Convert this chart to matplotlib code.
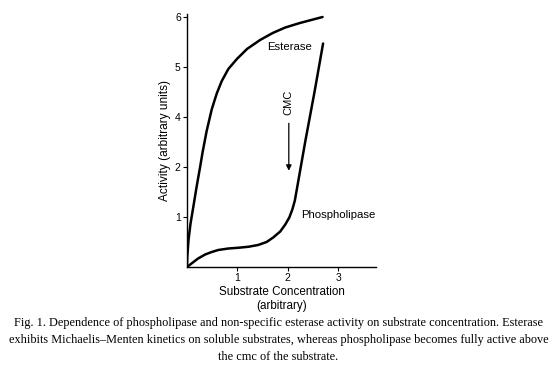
import numpy as np
import matplotlib.pyplot as plt

# y axis is drawn with a gap: the "3" tick is missing, so values are kept
# in plotted units (tick positions 1..5 carry labels 1,2,4,5,6)
y_tick_pos = [1, 2, 3, 4, 5]
y_tick_labels = ["1", "2", "4", "5", "6"]
x_tick_pos = [1, 2, 3]
x_tick_labels = ["1", "2", "3"]

esterase_x = [0.0, 0.005, 0.03, 0.07, 0.125, 0.19, 0.26, 0.31, 0.39, 0.49, 0.59, 0.69,
              0.82, 0.99, 1.19, 1.45, 1.70, 1.95, 2.24, 2.69]
esterase_y = [0.0, 0.2, 0.54, 0.87, 1.2, 1.6, 2.0, 2.3, 2.72, 3.15, 3.47, 3.72,
              3.96, 4.16, 4.36, 4.54, 4.68, 4.79, 4.88, 5.0]

phospho_x = [0.0, 0.09, 0.22, 0.36, 0.49, 0.62, 0.82, 1.02, 1.22, 1.41, 1.58, 1.71,
             1.85, 1.95, 2.03, 2.09, 2.14, 2.21, 2.28, 2.35, 2.53, 2.70]
phospho_y = [0.0, 0.07, 0.17, 0.25, 0.30, 0.34, 0.37, 0.385, 0.405, 0.44, 0.50, 0.59,
             0.71, 0.85, 0.99, 1.15, 1.33, 1.73, 2.13, 2.53, 3.5, 4.47]

caption = ("Fig. 1. Dependence of phospholipase and non-specific esterase activity on substrate concentration. Esterase\n"
           "exhibits Michaelis\u2013Menten kinetics on soluble substrates, whereas phospholipase becomes fully active above\n"
           "the cmc of the substrate.")

plt.rcParams['font.family'] = ['Liberation Sans', 'DejaVu Sans']

fig = plt.figure(figsize=(5.57, 3.78), dpi=100)
ax = fig.add_axes([187/557, 111/378, 189/557, 253/378])

ax.plot(esterase_x, esterase_y, color="black", lw=1.8, solid_joinstyle="round", solid_capstyle="round")
ax.plot(phospho_x, phospho_y, color="black", lw=1.8, solid_joinstyle="round", solid_capstyle="round")

ax.set_xlim(0, 3.75)
ax.set_ylim(0, 5.06)
ax.set_xticks(x_tick_pos)
ax.set_xticklabels(x_tick_labels, fontsize=7.5)
ax.set_yticks(y_tick_pos)
ax.set_yticklabels(y_tick_labels, fontsize=7.5)
ax.tick_params(length=3, width=0.8, pad=1.5)
for s in ["top", "right"]:
    ax.spines[s].set_visible(False)
for s in ["left", "bottom"]:
    ax.spines[s].set_linewidth(1.0)

ax.set_ylabel("Activity (arbitrary units)", fontsize=8.6, labelpad=3)
ax.set_xlabel("Substrate Concentration\n(arbitrary)", fontsize=8.4, labelpad=2, linespacing=1.2)

ax.text(1.58, 4.4, "Esterase", fontsize=8.2, ha="left", va="center")
ax.text(2.27, 1.05, "Phospholipase", fontsize=8.2, ha="left", va="center")
ax.text(2.02, 3.3, "CMC", fontsize=8, rotation=90, ha="center", va="center")
ax.annotate("", xy=(2.02, 1.87), xytext=(2.02, 2.93),
            arrowprops=dict(arrowstyle="-|>", color="black", lw=0.9, mutation_scale=8))

fig.text(0.5, 0.10, caption, fontsize=8.85, family="Liberation Serif",
         ha="center", va="center", linespacing=1.55)

fig.savefig("out.png", dpi=100)
